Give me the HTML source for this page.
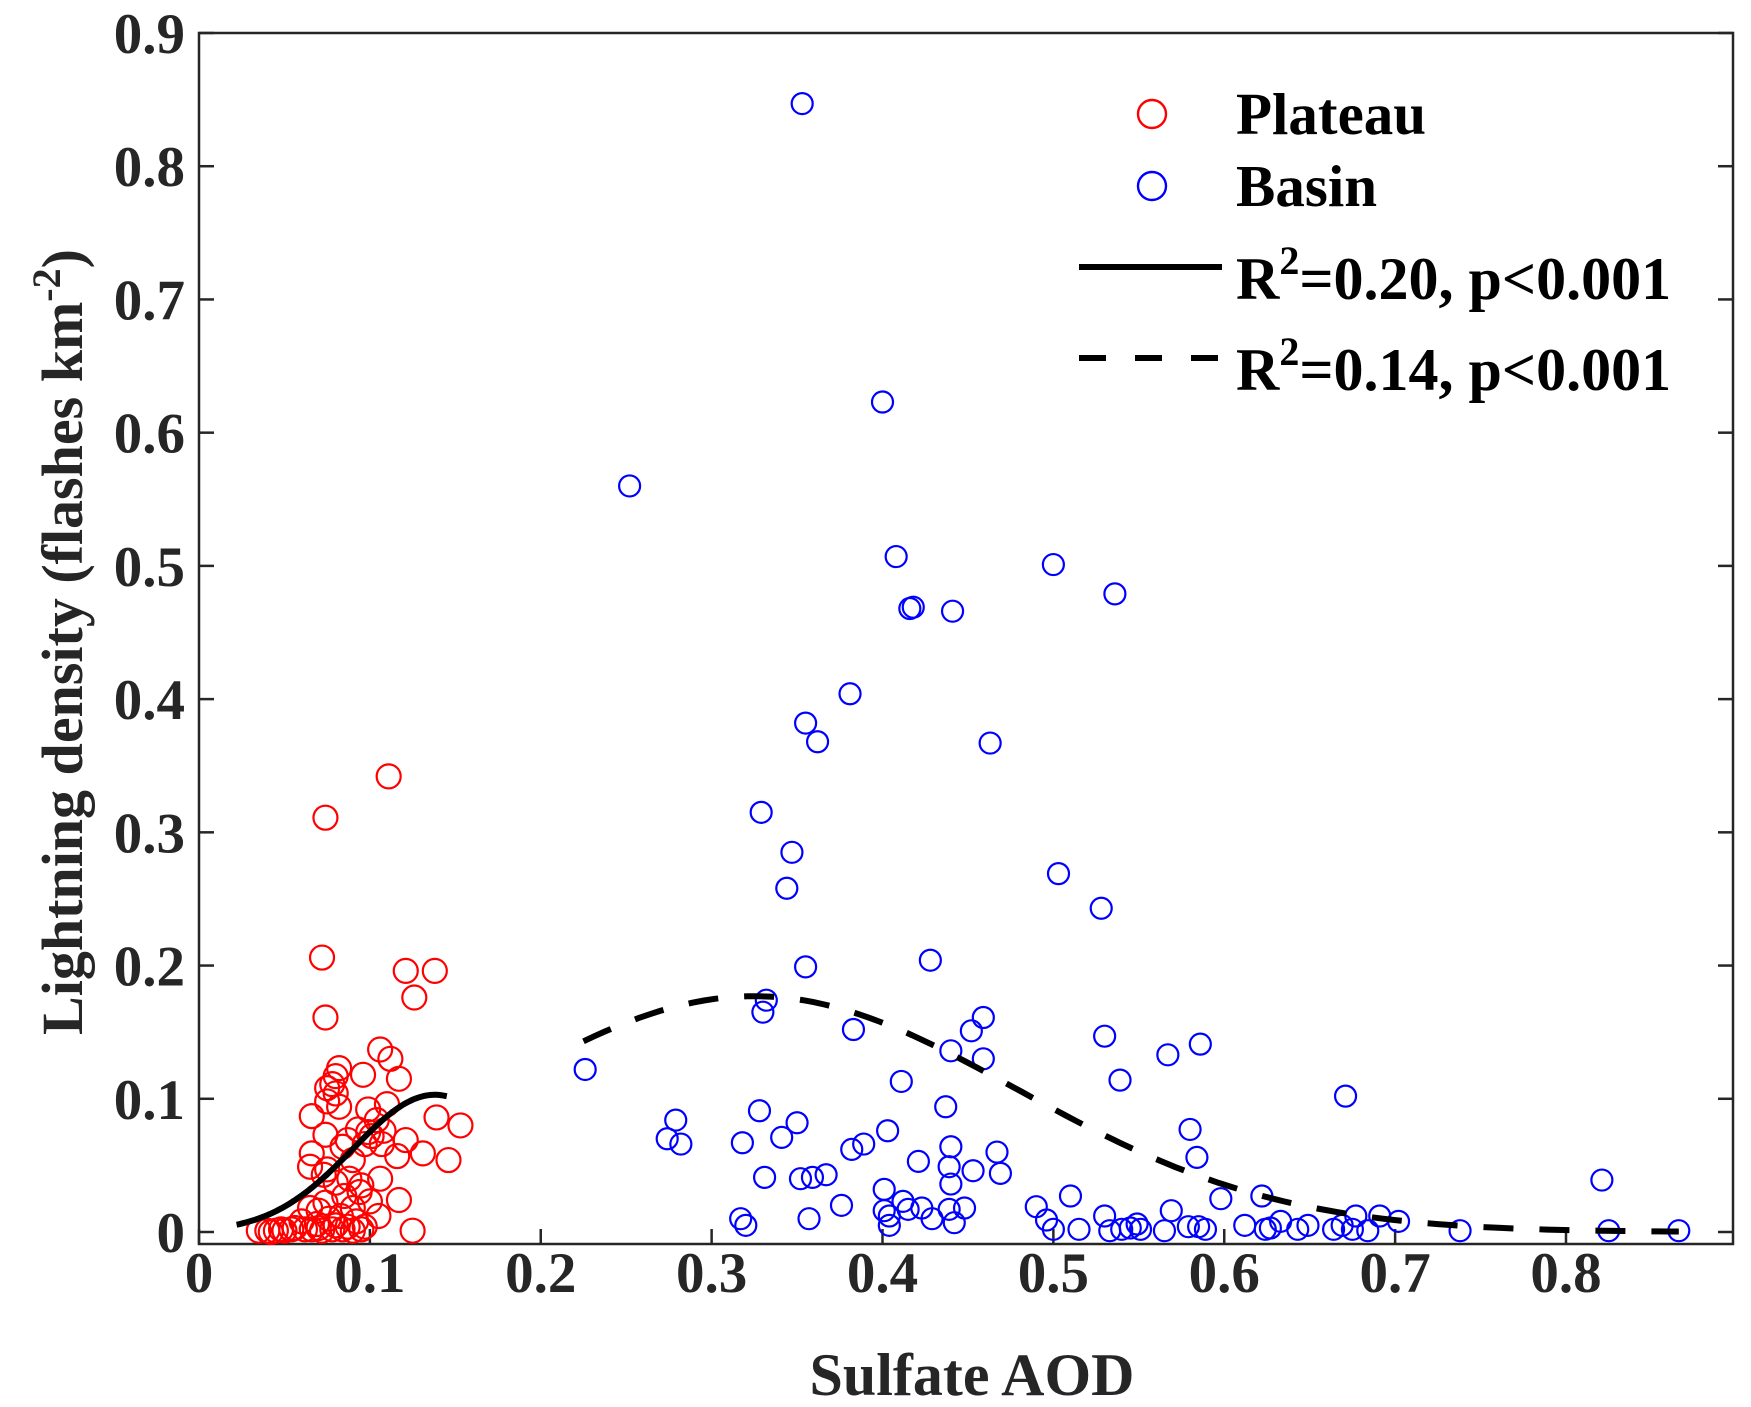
<!DOCTYPE html>
<html><head><meta charset="utf-8"><style>
html,body{margin:0;padding:0;background:#fff;}
svg{display:block;font-family:"Liberation Serif",serif;font-weight:bold;}
</style></head><body>
<svg id="chart" width="1751" height="1407" viewBox="0 0 1751 1407" xmlns="http://www.w3.org/2000/svg">
<g id="axes"></g><g id="marks"></g><g id="legend"></g>
</svg>
<script>
const xTicks=[0,0.1,0.2,0.3,0.4,0.5,0.6,0.7,0.8];
const yTicks=[0,0.1,0.2,0.3,0.4,0.5,0.6,0.7,0.8,0.9];
const xTickLabels=["0","0.1","0.2","0.3","0.4","0.5","0.6","0.7","0.8"];
const yTickLabels=["0","0.1","0.2","0.3","0.4","0.5","0.6","0.7","0.8","0.9"];
const plateauX=[0.111,0.074,0.072,0.121,0.138,0.126,0.074,0.106,0.112,0.082,0.080,0.096,0.117,0.078,0.075,0.080,0.075,0.082,0.110,0.099,0.066,0.139,0.104,0.153,0.093,0.108,0.099,0.074,0.087,0.121,0.101,0.097,0.107,0.084,0.131,0.066,0.116,0.090,0.146,0.065,0.075,0.073,0.106,0.088,0.080,0.095,0.094,0.085,0.117,0.100,0.074,0.065,0.070,0.090,0.105,0.083,0.076,0.060,0.092,0.069,0.080,0.087,0.056,0.035,0.040,0.045,0.050,0.054,0.062,0.066,0.072,0.078,0.084,0.090,0.095,0.125,0.042,0.048,0.070,0.097];
const plateauY=[0.342,0.311,0.206,0.196,0.196,0.176,0.161,0.137,0.130,0.123,0.117,0.118,0.115,0.111,0.108,0.104,0.098,0.094,0.096,0.092,0.087,0.086,0.084,0.080,0.077,0.076,0.075,0.073,0.069,0.069,0.072,0.066,0.066,0.064,0.059,0.059,0.057,0.054,0.054,0.049,0.047,0.043,0.040,0.040,0.037,0.035,0.030,0.027,0.024,0.023,0.022,0.018,0.016,0.018,0.012,0.012,0.010,0.008,0.008,0.006,0.005,0.004,0.003,0.001,0.001,0.001,0.001,0.002,0.002,0.002,0.001,0.002,0.002,0.001,0.002,0.001,0.000,0.002,0.003,0.004];
const basinX=[0.353,0.400,0.252,0.408,0.500,0.536,0.416,0.418,0.441,0.381,0.355,0.362,0.463,0.329,0.347,0.344,0.503,0.528,0.428,0.355,0.332,0.330,0.459,0.383,0.452,0.530,0.586,0.440,0.567,0.459,0.226,0.539,0.411,0.671,0.437,0.328,0.279,0.350,0.580,0.403,0.341,0.274,0.318,0.282,0.389,0.440,0.382,0.467,0.584,0.421,0.439,0.453,0.469,0.367,0.331,0.359,0.352,0.821,0.440,0.401,0.510,0.622,0.598,0.412,0.376,0.490,0.448,0.423,0.415,0.439,0.401,0.569,0.404,0.530,0.677,0.691,0.317,0.357,0.429,0.496,0.633,0.442,0.549,0.320,0.404,0.612,0.649,0.702,0.669,0.500,0.515,0.533,0.540,0.545,0.551,0.565,0.579,0.585,0.589,0.624,0.627,0.643,0.664,0.675,0.684,0.738,0.825,0.866];
const basinY=[0.847,0.623,0.560,0.507,0.501,0.479,0.468,0.469,0.466,0.404,0.382,0.368,0.367,0.315,0.285,0.258,0.269,0.243,0.204,0.199,0.174,0.165,0.161,0.152,0.151,0.147,0.141,0.136,0.133,0.130,0.122,0.114,0.113,0.102,0.094,0.091,0.084,0.082,0.077,0.076,0.071,0.070,0.067,0.066,0.066,0.064,0.062,0.060,0.056,0.053,0.049,0.046,0.044,0.043,0.041,0.041,0.040,0.039,0.036,0.032,0.027,0.027,0.025,0.023,0.020,0.019,0.018,0.018,0.017,0.017,0.016,0.016,0.012,0.012,0.012,0.012,0.010,0.010,0.010,0.009,0.008,0.007,0.006,0.005,0.005,0.005,0.005,0.008,0.005,0.002,0.002,0.001,0.002,0.003,0.002,0.001,0.004,0.004,0.002,0.002,0.003,0.002,0.002,0.002,0.001,0.001,0.001,0.001];
const plateauFit=[0.103,0.138,0.0677,0.022,0.145];
const basinFit=[0.177,0.325,0.217,0.225,0.866];

const NS="http://www.w3.org/2000/svg";
const L=199,R=1733,T=33,B=1244,Y0=1232,Y9=33,X0=199,X8=1566;
function sx(v){return X0+v*(X8-X0)/0.8;}
function sy(v){return Y0-v*(Y0-Y9)/0.9;}
function mk(tag,attrs,parent){const e=document.createElementNS(NS,tag);for(const k in attrs)e.setAttribute(k,attrs[k]);parent.appendChild(e);return e;}
const axes=document.getElementById('axes'),marks=document.getElementById('marks'),leg=document.getElementById('legend');
const ax="#262626";
let box=mk('rect',{x:L,y:T,width:R-L,height:B-T,fill:'none',stroke:ax,'stroke-width':2.5},axes);


xTicks.forEach((v,i)=>{
 let t=mk('line',{x1:sx(v),x2:sx(v),y1:B,y2:B-15,stroke:ax,'stroke-width':2.5},axes);
 
 
 let tx=mk('text',{x:sx(v),y:1292,'text-anchor':'middle','font-size':57,fill:ax},axes);
 tx.textContent=xTickLabels[i];
 
 
});
yTicks.forEach((v,i)=>{
 let t=mk('line',{x1:L,x2:L+15,y1:sy(v),y2:sy(v),stroke:ax,'stroke-width':2.5},axes);
 
 
 let t2=mk('line',{x1:R,x2:R-15,y1:sy(v),y2:sy(v),stroke:ax,'stroke-width':2.5},axes);
 
 
 let tx=mk('text',{x:185,y:sy(v)+20,'text-anchor':'end','font-size':57,fill:ax},axes);
 tx.textContent=yTickLabels[i];
 
 
});
let xt=mk('text',{x:972,y:1395,'text-anchor':'middle','font-size':60,fill:ax},axes);
xt.textContent='Sulfate AOD';


let yt=mk('text',{x:0,y:0,'text-anchor':'middle','font-size':58,fill:ax,transform:'translate(82,642) rotate(-90)'},axes);
yt.innerHTML='Lightning density (flashes km<tspan dy="-22" font-size="40">-2</tspan><tspan dy="22">)</tspan>';



plateauX.forEach((x,i)=>{
 let c=mk('circle',{cx:sx(x),cy:sy(plateauY[i]),r:12,fill:'none',stroke:'#ff0000','stroke-width':2.2},marks);
 
 
});
basinX.forEach((x,i)=>{
 let c=mk('circle',{cx:sx(x),cy:sy(basinY[i]),r:10.5,fill:'none',stroke:'#0000ff','stroke-width':2.2},marks);
 
 
});
function fitPath(f){const [a,b,c,x1,x2]=f;let d='';for(let k=0;k<=100;k++){const x=x1+(x2-x1)*k/100;const y=a*Math.exp(-Math.pow((x-b)/c,2));d+=(k?'L':'M')+sx(x).toFixed(1)+','+sy(y).toFixed(1);}return d;}
let f1=mk('path',{d:fitPath(plateauFit),fill:'none',stroke:'#000','stroke-width':6},marks);


let f2=mk('path',{d:fitPath(basinFit),fill:'none',stroke:'#000','stroke-width':6,'stroke-dasharray':'30 26'},marks);



let lc1=mk('circle',{cx:1152,cy:114,r:14,fill:'none',stroke:'#ff0000','stroke-width':2.4},leg);


let lt1=mk('text',{x:1236,y:134,'font-size':59,fill:'#000'},leg);
lt1.textContent='Plateau';


let lc2=mk('circle',{cx:1152,cy:186,r:14,fill:'none',stroke:'#0000ff','stroke-width':2.4},leg);


let lt2=mk('text',{x:1236,y:206,'font-size':59,fill:'#000'},leg);
lt2.textContent='Basin';


let ll1=mk('line',{x1:1079,x2:1222,y1:267,y2:267,stroke:'#000','stroke-width':6},leg);


let lt3=mk('text',{x:1236,y:299,'font-size':60,fill:'#000'},leg);
lt3.innerHTML='R<tspan dy="-25" font-size="40">2</tspan><tspan dy="25">=0.20, p&lt;0.001</tspan>';


let ll2=mk('line',{x1:1079,x2:1222,y1:358,y2:358,stroke:'#000','stroke-width':6,'stroke-dasharray':'27 29'},leg);


let lt4=mk('text',{x:1236,y:390,'font-size':60,fill:'#000'},leg);
lt4.innerHTML='R<tspan dy="-25" font-size="40">2</tspan><tspan dy="25">=0.14, p&lt;0.001</tspan>';


</script>
</body></html>
